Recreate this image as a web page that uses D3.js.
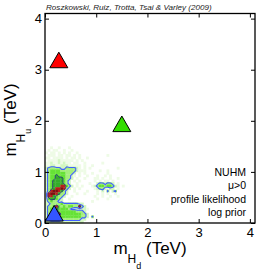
<!DOCTYPE html>
<html>
<head>
<meta charset="utf-8">
<script src="https://d3js.org/d3.v7.min.js"></script>
<style>
  body { margin: 0; background: #fff; }
  svg { display: block; font-family: "Liberation Sans", Arial, sans-serif; }
</style>
</head>
<body>
<svg id="chart" width="258" height="272"></svg>
<script>
// axis ticks (TeV)
const xTicks = [0, 1, 2, 3, 4]
const yTicks = [0, 1, 2, 3, 4]

// profile likelihood map, 0.05 TeV cells, top row = m_Hu 1.45-1.50, col 0 = m_Hd 0-0.05
// 0 empty, 1 faint, 2 light green, 3 green, 4 bright green, 5 dark green, 6 red, 7 dark red
const cellSize = 0.05
const pdfRows = [
  "..1..1...1........................",
  ".1.11..1..1.......................",
  "1.11.1.1.1..1.....................",
  ".111.11.11.1.1..........1.........",
  "11.1111.1.11.1..1.................",
  ".1111211111.1.1...................",
  "1121121211.11..1......1...........",
  "11221122211111.1..1...............",
  "23333322333321.1.1..........1.....",
  "2344443333332111.....1..1.........",
  "234444443332.1.1..1.....1.........",
  "234454443321.1..1...1..1.1........",
  "23445554332.1..1...11.1..1..1.....",
  "2345555432.1.1.....1.1.11.1.......",
  "2345555432..1....1..2332332.1.....",
  "23455566432.1.1...12344344321.1...",
  "2345667632.1.1.....12332122.1.....",
  "236776532..1....1...1.2.3.23......",
  "267765332...1..1....1.1.1..1......",
  "26654332..1........1..1..1..1.....",
  "2455432..1..........1...1.........",
  "2343322...........1...............",
  "223333433333322...................",
  "2334643434433632..................",
  "23445444432222221.................",
  "2345544444443332..................",
  "23455644444444332.................",
  "23455444444444332.3...............",
  "2344443333333322..................",
  "222222222222222..................."
]
const levelColors = ["none", "#eefbe6", "#d2f6c0", "#a4ee7c", "#66e236", "#34ad2a", "#b8201c", "#7c1010"]

// best fit points (m_Hd, m_Hu) in TeV
const markerNames = ["red", "green", "blue"]
const markerX = [0.27, 1.5, 0.18]
const markerY = [3.14, 1.89, 0.14]
const markerFill = ["#ff0000", "#33dd00", "#3355ff"]

const legendLines = ["NUHM", "\u03bc>0", "profile likelihood", "log prior"]
const credit = "Roszkowski, Ruiz, Trotta, Tsai & Varley (2009)"

const svg = d3.select("#chart")
const x = d3.scaleLinear().domain([0, 4.1]).range([45, 255])
const y = d3.scaleLinear().domain([0, 4.1]).range([223, 13.5])

const nCols = 34, nRows = pdfRows.length
const values = []
for (let r = 0; r < nRows; r++) {
  for (let c = 0; c < nCols; c++) {
    const ch = pdfRows[r][c]
    values.push(ch && ch !== "." ? +ch : 0)
  }
}

// heat cells
const cells = values.map((v, i) => ({v, c: i % nCols, r: Math.floor(i / nCols)})).filter(d => d.v > 0)
svg.append("g").selectAll("rect")
  .data(cells).enter().append("rect")
  .attr("x", d => x(d.c * cellSize))
  .attr("y", d => y((nRows - d.r) * cellSize))
  .attr("width", x(cellSize) - x(0) + 0.3)
  .attr("height", y(0) - y(cellSize) + 0.3)
  .attr("fill", d => levelColors[d.v])

// contours
const toPlot = d3.geoTransform({
  point: function(gx, gy) { this.stream.point(x(gx * cellSize), y((nRows - gy) * cellSize)) }
})
const contourPath = d3.geoPath(toPlot)
const contours = d3.contours().size([nCols, nRows]).thresholds([2.5, 4.5])(values)
svg.append("g").selectAll("path")
  .data(contours).enter().append("path")
  .attr("d", contourPath)
  .attr("fill", "none")
  .attr("stroke", (d, i) => i === 0 ? "#4060ff" : "#22228a")
  .attr("stroke-width", (d, i) => i === 0 ? 1.1 : 0.8)

// markers
const tri = d3.symbol().type(d3.symbolTriangle).size(140)
svg.append("g").selectAll("path")
  .data(markerNames).enter().append("path")
  .attr("d", tri)
  .attr("transform", (d, i) => `translate(${x(markerX[i])},${y(markerY[i])})`)
  .attr("fill", (d, i) => markerFill[i])
  .attr("stroke", "#000")
  .attr("stroke-width", 1)

// axes, inward ticks on all four sides
const fmt = d3.format("d")
svg.append("g").attr("transform", "translate(0,223)")
  .call(d3.axisBottom(x).tickValues(xTicks).tickFormat(fmt).tickSize(-4).tickPadding(4.5))
svg.append("g").attr("transform", "translate(0,13.5)")
  .call(d3.axisTop(x).tickValues(xTicks).tickFormat("").tickSize(-4))
svg.append("g").attr("transform", "translate(45,0)")
  .call(d3.axisLeft(y).tickValues(yTicks).tickFormat(fmt).tickSize(-4).tickPadding(3))
svg.append("g").attr("transform", "translate(255,0)")
  .call(d3.axisRight(y).tickValues(yTicks).tickFormat("").tickSize(-4))
svg.selectAll(".domain").remove()
svg.selectAll(".tick line").attr("stroke", "#000")
svg.selectAll(".tick text").attr("font-size", 13).attr("fill", "#000")
  .attr("font-family", "'Liberation Sans', Arial, sans-serif")

svg.append("rect")
  .attr("x", 45).attr("y", 13.5).attr("width", 210).attr("height", 209.5)
  .attr("fill", "none").attr("stroke", "#000").attr("stroke-width", 1.3)

// axis labels
function axisLabel(g, sub) {
  const t = g.append("text").attr("text-anchor", "middle").attr("fill", "#000")
  t.append("tspan").attr("font-size", 17).text("m")
  t.append("tspan").attr("font-size", 12).attr("dy", 9).text("H")
  t.append("tspan").attr("font-size", 9).attr("dy", 6).text(sub)
  t.append("tspan").attr("font-size", 17).attr("dy", -15).text("\u00a0(TeV)")
}
axisLabel(svg.append("g").attr("transform", "translate(150,254)"), "d")
axisLabel(svg.append("g").attr("transform", "translate(16,120) rotate(-90)"), "u")

// credit line
svg.append("text")
  .attr("x", 46).attr("y", 10)
  .attr("font-size", 8.1).attr("font-style", "italic").attr("fill", "#222")
  .text(credit)

// legend
svg.append("g").selectAll("text")
  .data(legendLines).enter().append("text")
  .attr("x", 246)
  .attr("y", (d, i) => 176 + i * 13.4)
  .attr("text-anchor", "end")
  .attr("font-size", 10.5)
  .attr("fill", "#000")
  .text(d => d)
</script>
</body>
</html>
